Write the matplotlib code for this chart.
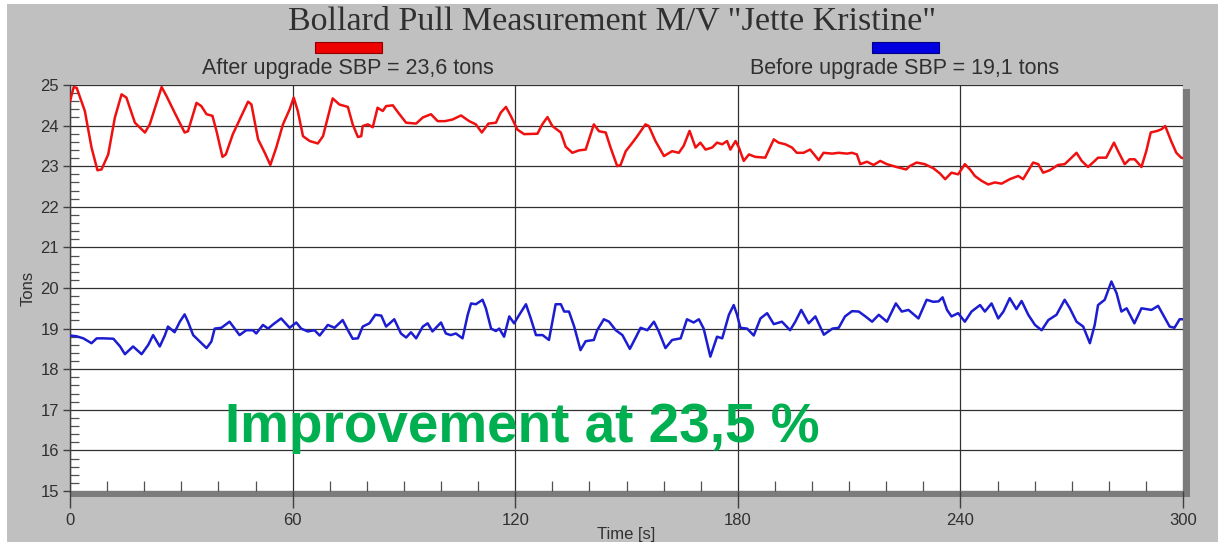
import matplotlib
matplotlib.use("Agg")
import matplotlib.pyplot as plt
from matplotlib.patches import Rectangle
from matplotlib.ticker import MultipleLocator

# ---------------- data ----------------
red_t = [0, 1, 1.8, 4.0, 5.8, 7.4, 8.5, 10.3, 12.1, 13.9,
         15.2, 17.5, 20.2, 21.5, 24.7, 26.0, 28.2, 30.9, 31.8, 34.1,
         35.4, 36.8, 38.4, 39.5, 41.1, 42.0, 43.9, 46.2, 48.0, 48.9,
         50.7, 52.5, 54.0, 55.6, 57.4, 59.2, 60.3, 61.4, 62.8, 64.6,
         66.8, 68.2, 70.8, 72.6, 74.9, 76.2, 77.6, 78.5, 78.9, 80.3,
         81.6, 82.9, 84.3, 85.2, 87.0, 88.8, 90.6, 93.3, 95.1, 97.3,
         99.1, 101.1, 103.1, 105.4, 107.6, 109.4, 111.0, 112.8, 114.8, 116.1,
         117.5, 118.8, 120.6, 122.4, 126.0, 127.3, 128.7, 130.0, 132.3, 133.6,
         135.4, 137.2, 139.0, 141.2, 142.6, 144.4, 145.7, 147.5, 148.4, 149.8,
         151.6, 152.9, 155.1, 156.0, 157.8, 160.1, 162.3, 164.1, 165.4, 167.0,
         168.6, 169.9, 171.3, 173.1, 174.4, 175.8, 177.1, 178.0, 179.4, 180.3,
         181.6, 183.0, 184.7, 187.4, 189.7, 191.0, 192.8, 194.6, 195.9, 197.7,
         199.5, 201.8, 203.1, 205.4, 207.2, 209.4, 210.8, 212.1, 213.0, 214.8,
         216.6, 218.4, 220.2, 222.8, 225.4, 226.3, 228.2, 230.4, 232.7, 234.5,
         235.9, 237.6, 239.4, 241.2, 242.6, 243.9, 245.7, 247.5, 249.3, 251.1,
         253.3, 255.6, 256.9, 259.6, 261.0, 262.3, 264.1, 266.3, 268.1, 269.5,
         271.3, 272.7, 274.4, 276.2, 277.1, 279.3, 281.4, 282.5, 284.3, 285.6,
         287.0, 288.8, 290.1, 291.3, 293.1, 294.2, 295.2, 296.8, 298.2, 299.5,
         300]
red_v = [24.6, 24.95, 24.93, 24.36, 23.46, 22.9, 22.92, 23.29, 24.2, 24.77,
         24.69, 24.07, 23.83, 24.03, 24.95, 24.73, 24.32, 23.83, 23.86, 24.56,
         24.48, 24.28, 24.24, 23.86, 23.23, 23.29, 23.79, 24.24, 24.59, 24.52,
         23.66, 23.33, 23.03, 23.46, 24.03, 24.4, 24.69, 24.36, 23.74, 23.62,
         23.56, 23.74, 24.67, 24.52, 24.46, 24.03, 23.72, 23.74, 23.99, 24.03,
         23.96, 24.44, 24.36, 24.48, 24.5, 24.28, 24.07, 24.05, 24.2, 24.28,
         24.11, 24.11, 24.15, 24.25, 24.11, 24.03, 23.83, 24.05, 24.07, 24.32,
         24.46, 24.24, 23.9, 23.79, 23.8, 24.03, 24.21, 23.99, 23.83, 23.48,
         23.33, 23.39, 23.41, 24.03, 23.86, 23.83, 23.46, 23.0, 23.03, 23.37,
         23.58, 23.74, 24.03, 23.99, 23.62, 23.25, 23.37, 23.33, 23.5, 23.87,
         23.46, 23.58, 23.41, 23.46, 23.58, 23.54, 23.62, 23.41, 23.62, 23.46,
         23.13, 23.29, 23.23, 23.21, 23.66, 23.58, 23.54, 23.46, 23.33, 23.33,
         23.41, 23.15, 23.33, 23.31, 23.33, 23.31, 23.33, 23.29, 23.05, 23.11,
         23.03, 23.13, 23.05, 22.98, 22.92, 23.0, 23.09, 23.05, 22.95, 22.82,
         22.68, 22.84, 22.8, 23.05, 22.92, 22.76, 22.64, 22.55, 22.6, 22.57,
         22.68, 22.76, 22.68, 23.09, 23.05, 22.84, 22.9, 23.03, 23.05, 23.17,
         23.33, 23.13, 22.98, 23.13, 23.21, 23.21, 23.58, 23.37, 23.05, 23.17,
         23.17, 22.98, 23.37, 23.83, 23.87, 23.91, 23.99, 23.62, 23.33, 23.21,
         23.2]

blue_t = [0, 1.8, 3.6, 5.8, 7.2, 9.0, 11.7, 13.5, 14.8, 17.0,
          19.3, 21.1, 22.4, 24.2, 25.6, 26.4, 28.2, 29.6, 30.9, 31.8,
          33.2, 35.0, 36.8, 38.1, 39.0, 40.8, 43.0, 44.4, 45.7, 47.5,
          49.3, 50.2, 52.0, 53.4, 54.7, 56.9, 59.2, 61.0, 62.3, 64.1,
          65.9, 67.3, 69.5, 71.3, 73.5, 74.9, 76.2, 77.6, 78.9, 80.7,
          82.3, 83.9, 85.2, 87.4, 89.2, 90.6, 91.9, 93.3, 95.1, 96.4,
          97.7, 100.0, 101.3, 102.6, 104.0, 105.8, 107.2, 108.1, 109.4, 111.2,
          112.1, 113.5, 114.8, 115.7, 117.0, 118.4, 119.7, 121.1, 122.9, 124.2,
          125.6, 127.4, 129.1, 130.9, 132.3, 133.2, 134.5, 135.9, 137.6, 139.0,
          141.2, 142.1, 143.9, 145.3, 147.1, 148.9, 150.9, 152.6, 153.8, 155.6,
          157.4, 158.7, 160.5, 162.3, 164.6, 166.3, 168.1, 169.5, 170.8, 172.6,
          174.4, 175.8, 177.6, 178.9, 179.8, 180.7, 182.5, 184.3, 186.1, 187.9,
          189.7, 191.9, 194.1, 195.5, 197.1, 199.1, 200.9, 203.2, 205.5, 207.2,
          208.9, 210.8, 212.6, 214.4, 216.2, 218.0, 220.2, 222.6, 224.2, 226.0,
          228.7, 230.9, 232.7, 234.1, 235.2, 236.4, 237.6, 239.4, 241.2, 243.0,
          245.3, 246.6, 248.4, 250.2, 251.6, 253.3, 255.1, 256.5, 258.3, 260.1,
          261.9, 263.7, 265.9, 268.1, 269.5, 271.3, 273.1, 274.9, 276.2, 277.1,
          278.9, 280.7, 282.1, 283.4, 284.8, 286.9, 288.8, 291.5, 293.3, 296.4,
          297.7, 299.1, 300]
blue_v = [18.83, 18.81, 18.76, 18.64, 18.76, 18.76, 18.75, 18.56, 18.37, 18.56,
          18.37, 18.6, 18.84, 18.56, 18.84, 19.05, 18.91, 19.17, 19.35, 19.17,
          18.84, 18.68, 18.52, 18.68, 19.0, 19.02, 19.17, 19.0, 18.84, 18.96,
          18.96, 18.88, 19.09, 19.0, 19.1, 19.25, 19.02, 19.15, 19.0, 18.93,
          18.96, 18.83, 19.09, 19.02, 19.21, 18.96, 18.75, 18.76, 19.05, 19.13,
          19.34, 19.32, 19.05, 19.23, 18.88, 18.78, 18.91, 18.76, 19.05, 19.13,
          18.93, 19.15, 18.88, 18.84, 18.88, 18.76, 19.34, 19.62, 19.6, 19.71,
          19.5, 19.0, 18.94, 19.0, 18.8, 19.3, 19.13, 19.34, 19.6, 19.25,
          18.84, 18.84, 18.72, 19.6, 19.6, 19.42, 19.42, 19.05, 18.47, 18.69,
          18.72, 18.96, 19.23, 19.17, 18.96, 18.84, 18.5, 18.8, 19.02, 18.96,
          19.17, 18.93, 18.52, 18.72, 18.76, 19.23, 19.15, 19.23, 19.0, 18.31,
          18.8, 18.76, 19.34, 19.58, 19.34, 19.02, 19.0, 18.83, 19.25, 19.38,
          19.11, 19.17, 18.96, 19.17, 19.46, 19.13, 19.3, 18.85, 19.0, 19.02,
          19.3, 19.43, 19.42, 19.3, 19.17, 19.34, 19.17, 19.62, 19.42, 19.46,
          19.25, 19.71, 19.66, 19.67, 19.77, 19.46, 19.3, 19.38, 19.17, 19.42,
          19.58, 19.42, 19.62, 19.25, 19.42, 19.75, 19.48, 19.68, 19.34, 19.09,
          18.96, 19.21, 19.34, 19.71, 19.5, 19.17, 19.05, 18.64, 19.09, 19.58,
          19.71, 20.16, 19.87, 19.42, 19.5, 19.13, 19.5, 19.46, 19.56, 19.05,
          19.02, 19.23, 19.23]

x_ticks = [0, 60, 120, 180, 240, 300]
y_ticks = [15, 16, 17, 18, 19, 20, 21, 22, 23, 24, 25]

title = 'Bollard Pull Measurement M/V "Jette Kristine"'
label_after = "After upgrade SBP = 23,6 tons"
label_before = "Before upgrade SBP = 19,1 tons"
note = "Improvement at 23,5 %"

# ---------------- figure ----------------
W, H = 1225, 542
fig = plt.figure(figsize=(W / 100, H / 100), dpi=100)
fig.patch.set_facecolor("white")

def fx(px):
    return px / W

def fy(py):
    return 1 - py / H

gray_bg = "#c0c0c0"
fig.patches.append(Rectangle((fx(7), 0), fx(1218) - fx(7), fy(4),
                             transform=fig.transFigure, facecolor=gray_bg,
                             edgecolor="none", zorder=-5))

ax_l, ax_r, ax_t, ax_b = 70, 1183, 85, 491
ax = fig.add_axes([fx(ax_l), fy(ax_b), fx(ax_r) - fx(ax_l), fy(ax_t) - fy(ax_b)])
ax.set_zorder(2)
ax.set_facecolor("white")

# shadow bands (right and bottom)
fig.patches.append(Rectangle((fx(ax_r), fy(497)), fx(1190) - fx(ax_r), fy(89) - fy(497),
                             transform=fig.transFigure, facecolor="#7c7c7c",
                             edgecolor="none", zorder=1))
fig.patches.append(Rectangle((fx(ax_l), fy(497)), fx(1190) - fx(ax_l), fy(ax_b) - fy(497),
                             transform=fig.transFigure, facecolor="#7c7c7c",
                             edgecolor="none", zorder=1))

ax.plot(red_t, red_v, color="#f01010", lw=1.8, zorder=3, solid_joinstyle="round")
ax.plot(blue_t, blue_v, color="#1c1cd0", lw=1.8, zorder=3, solid_joinstyle="round")

ax.set_xlim(0, 300)
ax.set_ylim(15, 25)
ax.set_xticks(x_ticks)
ax.set_yticks(y_ticks)
ax.xaxis.set_minor_locator(MultipleLocator(10))
ax.yaxis.set_minor_locator(MultipleLocator(0.2))

ax.grid(True, which="major", color="#303030", lw=0.9, zorder=2)
for s in ["top", "right", "bottom"]:
    ax.spines[s].set_visible(False)
ax.spines["left"].set_color("#404040")
ax.spines["left"].set_linewidth(1.0)

ax.tick_params(axis="y", which="major", direction="out", length=5, width=1,
               color="#404040", pad=3, labelcolor="#303030", labelsize=12)
ax.tick_params(axis="y", which="minor", direction="in", length=6.5, width=0.9,
               color="#505050")
ax.tick_params(axis="x", which="major", direction="out", length=12, width=1,
               color="#404040", pad=4, labelcolor="#303030", labelsize=12)
ax.tick_params(axis="x", which="minor", direction="in", length=7, width=0.9,
               color="#505050")
for lab in ax.get_xticklabels() + ax.get_yticklabels():
    lab.set_family("Liberation Sans")

ax.set_xlabel("Time [s]", family="Liberation Sans", fontsize=12, color="#303030",
              labelpad=-1)
ax.set_ylabel("Tons", family="Liberation Sans", fontsize=12, color="#303030",
              labelpad=3)

# title
fig.text(fx(612), fy(21), title, family="Liberation Serif", fontsize=24.5,
         color="#303030", ha="center", va="center")

# legend items
for cx, col, edge, lab in [(348, "#ee0000", "#900000", label_after),
                           (905, "#0000e0", "#000080", label_before)]:
    fig.patches.append(Rectangle((fx(cx - 33), fy(53)), fx(67), fy(0) - fy(11),
                                 transform=fig.transFigure, facecolor=col,
                                 edgecolor=edge, lw=0.8, zorder=2))
    fig.text(fx(cx), fy(69), lab, family="Liberation Sans", fontsize=15.5,
             color="#303030", ha="center", va="center")

ax.text(41.8, 16.56, note, family="Liberation Sans", fontweight="bold",
        fontsize=39.5, color="#00b050", ha="left", va="center", zorder=5)

fig.savefig("out.png", dpi=100, facecolor=fig.get_facecolor())
